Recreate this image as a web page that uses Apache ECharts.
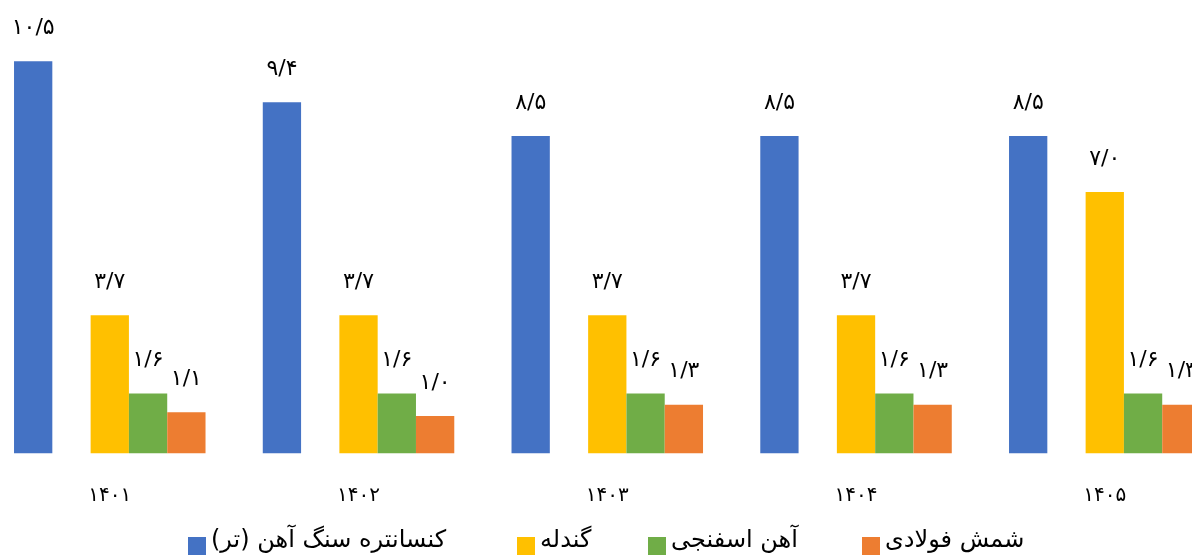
<!DOCTYPE html>
<html><head><meta charset="utf-8">
<script src="https://cdn.jsdelivr.net/npm/echarts@6/dist/echarts.min.js"></script>
<style>html,body{margin:0;padding:0;background:#fff;overflow:hidden;width:1192px;height:556px;position:relative}
#c{position:absolute;left:-15px;top:0;width:1260px;height:600px}</style>
</head><body><div id="c"></div>
<script>
const categories = ['۱۴۰۱','۱۴۰۲','۱۴۰۳','۱۴۰۴','۱۴۰۵'];
const seriesNames = ['کنسانتره سنگ آهن (تر)\u200F','گندله','آهن اسفنجی','شمش فولادی'];
const concentrate = [10.5, 9.4, 8.5, 8.5, 8.5];
const pellet = [3.7, 3.7, 3.7, 3.7, 7.0];
const spongeIron = [1.6, 1.6, 1.6, 1.6, 1.6];
const billet = [1.1, 1.0, 1.3, 1.3, 1.3];
const colors = ['#4472C4','#FFC000','#70AD47','#ED7D31'];

const FONT = 'DejaVu Sans';
const fa = n => n.toFixed(1).replace(/\d/g, d => '۰۱۲۳۴۵۶۷۸۹'[d]).replace('.', '/');
function bar(name, data, color) {
  return {
    name, type: 'bar', data, barWidth: 38.3, barGap: '0%',
    itemStyle: { color },
    label: { show: true, position: 'top', distance: 22, color: '#000',
      fontFamily: FONT, fontSize: 22, formatter: p => fa(p.value) }
  };
}
const legendLeft = [203, 532, 663, 877];
const chart = echarts.init(document.getElementById('c'));
chart.setOption({
  animation: false,
  grid: { left: 0.4, width: 1243.75, top: 5.3, height: 448 },
  xAxis: { type: 'category', data: categories,
    axisLine: { show: false }, axisTick: { show: false },
    axisLabel: { margin: 32, color: '#000', fontFamily: FONT, fontSize: 20 } },
  yAxis: { type: 'value', min: 0, max: 12, show: false, splitLine: { show: false } },
  legend: seriesNames.map((n, i) => ({
    left: legendLeft[i], top: 527, padding: 0, itemWidth: 18, itemHeight: 28,
    icon: 'path://M0 0L0.01 0M0 10L18 10L18 28L0 28Z', data: [n],
    textStyle: { fontFamily: FONT, fontSize: 24, color: '#000' }
  })),
  series: [
    bar(seriesNames[0], concentrate, colors[0]),
    { name: 'gap', type: 'bar', data: [null,null,null,null,null], barWidth: 38.3, barGap: '0%' },
    bar(seriesNames[1], pellet, colors[1]),
    bar(seriesNames[2], spongeIron, colors[2]),
    bar(seriesNames[3], billet, colors[3])
  ]
});
</script></body></html>
